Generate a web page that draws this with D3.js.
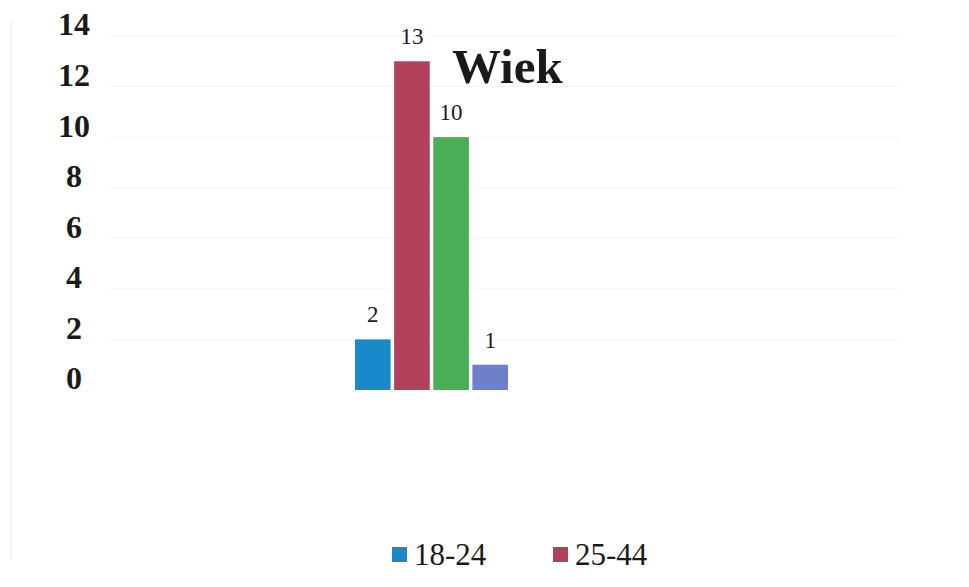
<!DOCTYPE html>
<html>
<head>
<meta charset="utf-8">
<script src="https://cdn.jsdelivr.net/npm/d3@7"></script>
<style>
  body { margin: 0; background: #fff; }
</style>
</head>
<body>
<div id="chart"></div>
<script>
// data
const categories = ["18-24", "25-44", "45-64", "65+"];
const values = [2, 13, 10, 1];
const colors = ["#1a89c9", "#b1405b", "#4bae57", "#6f7fca"];
const legendItems = ["18-24", "25-44"];
const yTicks = [0, 2, 4, 6, 8, 10, 12, 14];

const W = 969, H = 587;
const serif = "'Liberation Serif', 'Times New Roman', 'DejaVu Serif', serif";

const svg = d3.select("#chart")
  .append("svg")
    .attr("width", W)
    .attr("height", H);

// scales
const x = d3.scaleBand()
  .domain(categories)
  .range([355, 508])
  .paddingInner(0.09);

const y = d3.scaleLinear()
  .domain([0, 14])
  .range([390, 36]);

// faint left border from the scan
svg.append("line")
  .attr("x1", 11).attr("x2", 11)
  .attr("y1", 20).attr("y2", 560)
  .attr("stroke", "#e8ebf0")
  .attr("stroke-width", 1);

// faint gridlines
svg.append("g")
  .selectAll("line")
  .data(yTicks.filter(d => d > 0))
  .join("line")
    .attr("x1", 110).attr("x2", 900)
    .attr("y1", d => y(d)).attr("y2", d => y(d))
    .attr("stroke", "#f2f4f7")
    .attr("stroke-width", 1);

// Y axis labels (centred under each other)
const yAxis = svg.append("g")
  .attr("transform", "translate(74,-12)")
  .call(d3.axisLeft(y).tickValues(yTicks).tickSize(0).tickPadding(0));
yAxis.select(".domain").remove();
yAxis.selectAll("text")
  .style("font-family", serif)
  .attr("font-size", 32)
  .attr("font-weight", "bold")
  .attr("text-anchor", "middle")
  .attr("fill", "#1a1a1a")
  .attr("dy", "0.34em");

// bars
svg.append("g")
  .selectAll("rect")
  .data(values)
  .join("rect")
    .attr("x", (d, i) => x(categories[i]))
    .attr("y", d => y(d))
    .attr("width", x.bandwidth())
    .attr("height", d => y(0) - y(d))
    .attr("fill", (d, i) => colors[i]);

// value labels
svg.append("g")
  .selectAll("text")
  .data(values)
  .join("text")
    .attr("x", (d, i) => x(categories[i]) + x.bandwidth() / 2)
    .attr("y", d => y(d) - 17)
    .attr("text-anchor", "middle")
    .style("font-family", serif)
    .attr("font-size", 23)
    .attr("fill", "#1a1a1a")
    .text(d => d);

// title
svg.append("text")
  .attr("x", 452)
  .attr("y", 83)
  .style("font-family", serif)
  .attr("font-size", 49)
  .attr("font-weight", "bold")
  .attr("fill", "#1a1a1a")
  .text("Wiek");

// legend
const legend = svg.append("g")
  .selectAll("g")
  .data(legendItems)
  .join("g")
    .attr("transform", (d, i) => `translate(${392 + i * 161},547)`);
legend.append("rect")
  .attr("width", 15).attr("height", 15)
  .attr("fill", (d, i) => colors[i]);
legend.append("text")
  .attr("x", 22)
  .attr("y", 18)
  .style("font-family", serif)
  .attr("font-size", 31)
  .attr("fill", "#1a1a1a")
  .text(d => d);
</script>
</body>
</html>
